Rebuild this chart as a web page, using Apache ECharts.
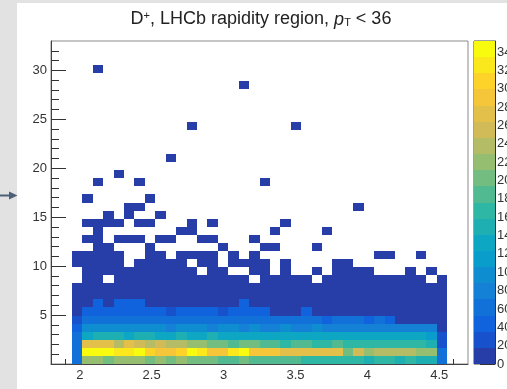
<!DOCTYPE html>
<html>
<head>
<meta charset="utf-8">
<script src="https://cdn.jsdelivr.net/npm/echarts@6/dist/echarts.min.js"></script>
<style>
  html, body { margin:0; padding:0; width:507px; height:389px; background:#e2e2e2; overflow:hidden; }
  #panel { position:absolute; left:17px; top:3px; width:490px; height:386px; background:#ffffff; }
  #c { position:absolute; left:0; top:0; width:507px; height:389px; }
</style>
</head>
<body>
<div id="panel"></div>
<div id="c"></div>
<script>
// ---------------- data ----------------
const xMin = 1.8, xMax = 4.7, xBinWidth = 0.0725, firstFilledBin = 2;
const yMin = 0, yMax = 33, yBinHeight = 0.825;
const zMax = 352, zLevels = 20;

const xMajorTicks = [2, 2.5, 3, 3.5, 4, 4.5];
const yMajorTicks = [5, 10, 15, 20, 25, 30];
const zTicks = [0,20,40,60,80,100,120,140,160,180,200,220,240,260,280,300,320,340];

// counts per y-bin row (row 0 = bottom), 36 x-bins each (x-bins 2..37)
const row0  = [60,215,220,210,225,215,220,210,215,205, 215,210,200,205,190,185,195,180,185,190, 180,185,175,165,160,170,160,165,155,160, 165,158,160,150,155,60];
const row1  = [65,345,340,335,325,330,345,300,295,290, 300,335,330,290,295,325,335,290,285,285, 280,270,275,270,270,265,200,255,215,245, 240,245,240,215,215,55];
const row2  = [60,275,272,270,245,265,262,240,250,230, 235,225,220,200,205,190,200,195,185,190, 175,180,185,170,175,180,165,175,170,165, 175,160,165,160,155,30];
const row3  = [55,140,145,150,145,140,150,145,140,135, 145,140,135,145,140,135,140,135,130,140, 135,130,135,140,130,135,130,125,130,135, 125,130,125,130,120,20];
const row4  = [45,95,100,90,100,95,90,100,95,85, 90,95,90,85,95,90,85,90,80,85, 90,85,80,90,85,80,85,80,85,80, 78,85,80,78,80,15];
const row5  = [25,60,65,60,55,60,65,60,55,60, 55,60,55,60,55,60,65,60,55,60, 55,60,55,60,50,55,60,55,50,55, 50,12,14,12,14,10];
const row6  = [10,45,40,45,40,45,40,45,40,25, 40,45,40,45,25,40,45,40,40,15, 15,15,40,15,12,10,12,10,12,10, 12,10,12,10,10,8];
const row7  = [8,12,40,12,38,40,40,12,10,12, 10,12,10,12,10,12,38,10,12,10, 12,10,12,10,12,10,12,10,12,10, 12,10,12,10,12,8];
const row8  = [8,10,12,9,11,13,10,12,9,11, 10,12,8,11,10,9,12,10,11,9, 10,12,8,10,9,11,10,8,9,10, 8,9,10,8,7,6];
const row9  = [5,8,9,7,8,10,9,8,7,9, 8,7,9,8,7,8,9,7,8,6, 7,8,6,7,8,6,7,6,7,5, 6,7,5,6,5,4];
const row10 = [0,4,5,0,6,5,4,6,5,4, 5,6,4,5,4,5,4,0,4,5, 3,4,3,0,4,3,4,3,4,3, 4,3,3,2,0,3];
const row11 = [0,3,4,3,4,3,4,3,3,4, 3,2,0,3,2,0,0,3,2,0, 2,0,0,2,0,2,3,2,2,0, 0,0,2,0,1,0];
const row12 = [2,3,2,3,2,0,3,2,3,2, 2,0,2,3,0,2,2,2,2,0, 2,0,0,0,0,2,2,0,0,0, 0,0,0,0,0,0];
const row13 = [2,2,1,2,2,0,0,2,1,0, 2,1,2,1,0,1,0,1,0,0, 0,0,0,0,0,0,0,0,0,1, 1,0,0,1,0,0];
const denseRows = [row0,row1,row2,row3,row4,row5,row6,row7,row8,row9,row10,row11,row12,row13];

// sparse upper region: [column, row, count]
const sparseCells = [
  [2,14,1],[3,14,1],[7,14,1],[14,14,1],[18,14,1],[19,14,1],[23,14,1],
  [1,15,1],[2,15,1],[4,15,1],[5,15,1],[6,15,1],[8,15,1],[9,15,1],[12,15,1],[13,15,1],[17,15,1],
  [2,16,1],[10,16,1],[11,16,1],[19,16,1],[24,16,1],
  [1,17,1],[2,17,1],[3,17,1],[4,17,1],[6,17,1],[7,17,1],[11,17,1],[13,17,1],[20,17,1],
  [3,18,1],[5,18,1],[8,18,1],
  [5,19,1],[6,19,1],[27,19,1],
  [1,20,1],[7,20,1],
  [2,22,1],[6,22,1],[18,22,1],
  [4,23,1],
  [9,25,1],
  [11,29,1],[21,29,1],
  [16,34,1],
  [2,36,1]
];

// ---------------- palette (ROOT kBird) ----------------
const birdStops = [0,0.125,0.25,0.375,0.5,0.625,0.75,0.875,1];
const birdR = [0.2082,0.0592,0.0780,0.0232,0.1802,0.5301,0.8186,0.9956,0.9764];
const birdG = [0.1664,0.3599,0.5041,0.6419,0.7178,0.7492,0.7328,0.7862,0.9832];
const birdB = [0.5293,0.8684,0.8385,0.7914,0.6425,0.4662,0.3499,0.1968,0.0539];
function bird(t){
  let k = 0;
  while (k < birdStops.length-2 && t > birdStops[k+1]) k++;
  const f = (t - birdStops[k])/(birdStops[k+1]-birdStops[k]);
  const c = a => Math.round(255*(a[k] + (a[k+1]-a[k])*f));
  return 'rgb(' + c(birdR) + ',' + c(birdG) + ',' + c(birdB) + ')';
}
const levelColors = [];
for (let i = 0; i < zLevels; i++) {
  const idx = Math.floor((i + 0.99) * 255 / zLevels);
  levelColors.push(bird(idx / 254));
}
function colorOf(v){
  let lv = Math.floor(v / (zMax / zLevels));
  if (lv < 0) lv = 0; if (lv >= zLevels) lv = zLevels - 1;
  return levelColors[lv];
}

// ---------------- build series data ----------------
const histData = [];
denseRows.forEach((row, r) => row.forEach((v, c) => {
  if (v > 0) histData.push([xMin + (c + firstFilledBin) * xBinWidth, yMin + r * yBinHeight, v]);
}));
sparseCells.forEach(([c, r, v]) => histData.push([xMin + (c + firstFilledBin) * xBinWidth, yMin + r * yBinHeight, v]));

const barData = [];
for (let i = 0; i < zLevels; i++) barData.push([0, i * zMax / zLevels, (i + 1) * zMax / zLevels, i]);

const xMinorTicks = [];
for (let k = 1; k <= 28; k++) { const v = +(xMin + k * 0.1).toFixed(2); if (Math.abs(v*2 - Math.round(v*2)) > 1e-6) xMinorTicks.push(v); }
const yMinorTicks = [];
for (let k = 1; k <= 32; k++) if (k % 5 !== 0) yMinorTicks.push(k);

const FONT = 'Liberation Sans, Arial, Helvetica, sans-serif';
const AX = '#333';

const chart = echarts.init(document.getElementById('c'), null, {renderer:'canvas'});
chart.setOption({
  animation: false,
  backgroundColor: 'transparent',
  grid: [
    {left:51, right:39, top:41, bottom:25, show:true, borderColor:'#8a8a8a', borderWidth:1,
     backgroundColor:'transparent', containLabel:false, outerBoundsMode:'none'},
    {left:474, right:12, top:41, bottom:25, show:true, borderColor:'#444', borderWidth:1,
     backgroundColor:'transparent', containLabel:false, outerBoundsMode:'none'}
  ],
  xAxis: [
    {gridIndex:0, type:'value', min:xMin, max:xMax, position:'bottom',
     axisLine:{onZero:false, lineStyle:{color:'#444', width:1}},
     axisTick:{inside:true, length:11, customValues:xMajorTicks, lineStyle:{color:AX}},
     axisLabel:{customValues:xMajorTicks, margin:5, fontSize:13, color:AX, fontFamily:FONT},
     splitLine:{show:false}},
    {gridIndex:0, type:'value', min:xMin, max:xMax, position:'bottom',
     axisLine:{show:false, onZero:false},
     axisTick:{inside:true, length:5, customValues:xMinorTicks, lineStyle:{color:AX}},
     axisLabel:{show:false}, splitLine:{show:false}},
    {gridIndex:1, type:'value', min:0, max:1, show:false}
  ],
  yAxis: [
    {gridIndex:0, type:'value', min:yMin, max:yMax, position:'left',
     axisLine:{onZero:false, lineStyle:{color:'#444', width:1}},
     axisTick:{inside:true, length:15, customValues:yMajorTicks, lineStyle:{color:AX}},
     axisLabel:{customValues:yMajorTicks, margin:4, fontSize:13, color:AX, fontFamily:FONT},
     splitLine:{show:false}},
    {gridIndex:0, type:'value', min:yMin, max:yMax, position:'left',
     axisLine:{show:false, onZero:false},
     axisTick:{inside:true, length:8, customValues:yMinorTicks, lineStyle:{color:AX}},
     axisLabel:{show:false}, splitLine:{show:false}},
    {gridIndex:1, type:'value', min:0, max:zMax, position:'right',
     axisLine:{show:true, onZero:false, lineStyle:{color:'#333', width:1}},
     axisTick:{inside:true, length:15, customValues:zTicks, lineStyle:{color:'#333'}},
     axisLabel:{customValues:zTicks, margin:2, fontSize:13, color:AX, fontFamily:FONT, hideOverlap:false},
     splitLine:{show:false}}
  ],
  graphic: [
    {type:'text', x:261, y:19.5, z:10,
     style:{
       text:'{n|D}{sup|+}{n|, LHCb rapidity region, }{it|p}{sub|T}{n| < 36}',
       align:'center', verticalAlign:'middle',
       rich:{
         n:{fontSize:18, fontFamily:FONT, fill:'#222', lineHeight:18},
         it:{fontSize:18, fontFamily:FONT, fill:'#222', fontStyle:'italic', lineHeight:18},
         sup:{fontSize:11, fontFamily:FONT, fill:'#222', lineHeight:11, verticalAlign:'top'},
         sub:{fontSize:11, fontFamily:FONT, fill:'#222', lineHeight:11, verticalAlign:'bottom'}
       }
     }},
    {type:'line', shape:{x1:0, y1:195.5, x2:12, y2:195.5}, style:{stroke:'#4e5f78', lineWidth:2}},
    {type:'polygon', shape:{points:[[9,191.5],[17.5,195.5],[9,199.5]]}, style:{fill:'#4e5f78'}}
  ],
  series: [
    {type:'custom', xAxisIndex:0, yAxisIndex:0, data:histData, encode:{x:0, y:1}, clip:true,
     renderItem: function(params, api){
       const x0 = api.value(0), y0 = api.value(1), v = api.value(2);
       const p0 = api.coord([x0, y0]);
       const p1 = api.coord([x0 + xBinWidth, y0 + yBinHeight]);
       const L = Math.round(p0[0]), R = Math.round(p1[0]);
       const B = Math.round(p0[1]), T = Math.round(p1[1]);
       return {type:'rect', shape:{x:L, y:T, width:R-L, height:B-T}, style:{fill:colorOf(v)}};
     }},
    {type:'custom', xAxisIndex:2, yAxisIndex:2, data:barData, encode:{y:[1,2]}, clip:false,
     renderItem: function(params, api){
       const lo = api.value(1), hi = api.value(2), lv = api.value(3);
       const p0 = api.coord([0, lo]);
       const p1 = api.coord([1, hi]);
       const L = Math.round(p0[0]), R = Math.round(p1[0]);
       const B = Math.round(p0[1]), T = Math.round(p1[1]);
       return {type:'rect', shape:{x:L, y:T, width:R-L, height:B-T}, style:{fill:levelColors[lv]}};
     }}
  ]
});
</script>
</body>
</html>
